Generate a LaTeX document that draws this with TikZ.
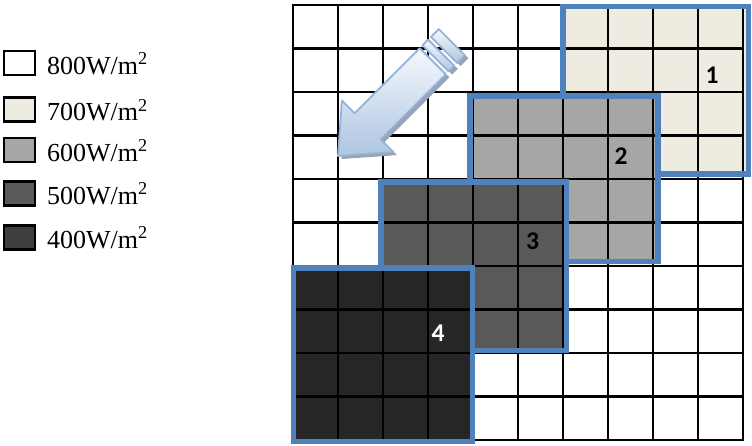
\documentclass[tikz,border=0pt]{standalone}
\usepackage{fontspec}
\setmainfont{Liberation Serif}
\newfontfamily\labelfont{Carlito}
\definecolor{regionblue}{HTML}{4F81BD}
\definecolor{cA}{HTML}{FFFFFF}
\definecolor{cB}{HTML}{EEECE1}
\definecolor{cC}{HTML}{A6A6A6}
\definecolor{cD}{HTML}{595959}
\definecolor{cE}{HTML}{262626}
\definecolor{cLegE}{HTML}{3F3F3F}
\definecolor{arredge}{HTML}{95B3D7}
\definecolor{arrtop}{HTML}{F6F8FC}
\definecolor{arrbot}{HTML}{AEC5E1}
\definecolor{arrshadow}{HTML}{9AA3B2}
\newcommand\drawgridlines{%
  \foreach \i in {0,...,10} {
    \draw[gridline] ({293+45*\i},5) -- ({293+45*\i},440);
    \draw[gridline] (293,{5+43.5*\i}) -- (743,{5+43.5*\i});
  }}
\begin{document}
\begin{tikzpicture}[x=1pt,y=-1pt,
  gridline/.style={line width=2.8pt, black, line cap=rect},
  region/.style={line width=5.8pt, draw=regionblue},
  legendbox/.style={draw=black, line width=2.2pt, minimum width=31pt, minimum height=24pt, inner sep=0pt},
  legendtext/.style={anchor=base west, inner sep=0pt, font=\fontsize{26}{30}\selectfont},
  numlabel/.style={inner sep=0pt, font=\labelfont\bfseries\fontsize{25.5}{30}\selectfont},
  arrowbody/.style={draw=arredge, line width=1.8pt, line join=round, top color=arrtop, bottom color=arrbot},
  arrowshade/.style={fill=arrshadow}]
\useasboundingbox (0,0) rectangle (752,445);

% main grid
\fill[white] (293,5) rectangle (743,440);
\drawgridlines

% region 1
\begin{scope}
  \clip (563,6.5) rectangle (748.5,174);
  \fill[cB] (563,6.5) rectangle (748.5,174);
  \drawgridlines
\end{scope}
\draw[region] (563,6.5) rectangle (748.5,174);

% region 2
\begin{scope}
  \clip (470,96) rectangle (658,261.5);
  \fill[cC] (470,96) rectangle (658,261.5);
  \drawgridlines
\end{scope}
\draw[region] (470,96) rectangle (658,261.5);

% region 3
\begin{scope}
  \clip (381,182) rectangle (566.5,350.5);
  \fill[cD] (381,182) rectangle (566.5,350.5);
  \drawgridlines
\end{scope}
\draw[region] (381,182) rectangle (566.5,350.5);

% region 4
\begin{scope}
  \clip (293.5,268) rectangle (472.5,441.5);
  \fill[cE] (293.5,268) rectangle (472.5,441.5);
  \drawgridlines
\end{scope}
\draw[region] (293.5,268) rectangle (472.5,441.5);

% labels
\node[numlabel] (n1) at (712,75) {1};
\node[numlabel] (n2) at (621,156) {2};
\node[numlabel] (n3) at (532.5,241.5) {3};
\node[numlabel, text=white] (n4) at (438,333.5) {4};

% arrow shadow
\begin{scope}[shift={(341.5,159)}, rotate=45]
  \fill[arrowshade] (0,0) -- (42,36.5) -- (42,18.5) -- (134,18.5) -- (134,-18.5) -- (42,-18.5) -- (42,-36.5) -- cycle;
  \fill[arrowshade] (138,-18.5) rectangle (146,18.5);
  \fill[arrowshade] (150,-18.5) rectangle (161,18.5);
\end{scope}
% arrow coordinates
\begin{scope}[shift={(338,156)}, rotate=45]
  \coordinate (ArT) at (0,0);
  \coordinate (ArB1) at (42,-36.5);
  \coordinate (ArN1) at (42,-18.5);
  \coordinate (ArS1) at (134,-18.5);
  \coordinate (ArS2) at (134,18.5);
  \coordinate (ArN2) at (42,18.5);
  \coordinate (ArB2) at (42,36.5);
  \coordinate (St1a) at (138,-18.5);
  \coordinate (St1b) at (146,-18.5);
  \coordinate (St1c) at (146,18.5);
  \coordinate (St1d) at (138,18.5);
  \coordinate (St2a) at (150,-18.5);
  \coordinate (St2b) at (161,-18.5);
  \coordinate (St2c) at (161,18.5);
  \coordinate (St2d) at (150,18.5);
\end{scope}
\draw[arrowbody] (ArT) -- (ArB2) -- (ArN2) -- (ArS2) -- (ArS1) -- (ArN1) -- (ArB1) -- cycle;
\draw[arrowbody] (St1a) -- (St1b) -- (St1c) -- (St1d) -- cycle;
\draw[arrowbody] (St2a) -- (St2b) -- (St2c) -- (St2d) -- cycle;

% legend
\node[legendbox, fill=cA] (l8) at (19.5,63) {};
\node[legendbox, fill=cB] (l7) at (19.5,109.5) {};
\node[legendbox, fill=cC] (l6) at (19.5,150) {};
\node[legendbox, fill=cD] (l5) at (19.5,193.5) {};
\node[legendbox, fill=cLegE] (l4) at (19.5,237.5) {};
\node[legendtext] (t8) at (47,74) {800W/m\textsuperscript{2}};
\node[legendtext] (t7) at (47,120.5) {700W/m\textsuperscript{2}};
\node[legendtext] (t6) at (47,161) {600W/m\textsuperscript{2}};
\node[legendtext] (t5) at (47,204) {500W/m\textsuperscript{2}};
\node[legendtext] (t4) at (47,248) {400W/m\textsuperscript{2}};
\end{tikzpicture}
\end{document}
